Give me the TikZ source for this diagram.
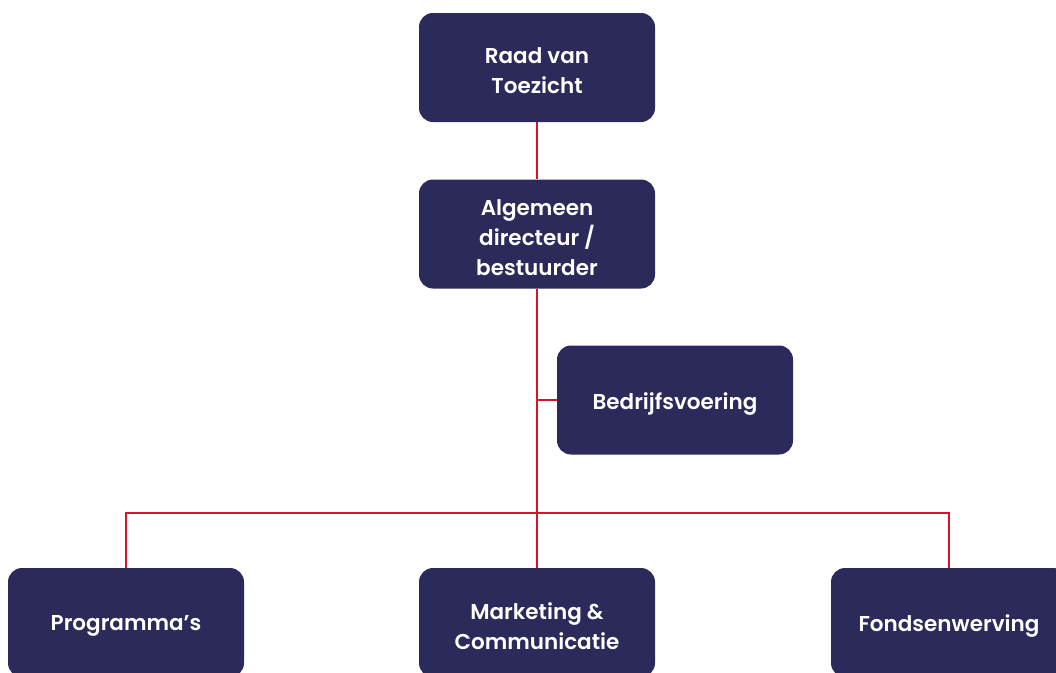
\documentclass[tikz,border=0pt]{standalone}
\usepackage{fontspec}
\setmainfont{Poppins}[UprightFont={* SemiBold}]
\definecolor{navy}{HTML}{2B2A5A}
\definecolor{linered}{HTML}{D7132E}
\begin{document}
\begin{tikzpicture}[x=1pt,y=1pt,
  box/.style={rectangle, rounded corners=14pt, fill=navy,
    minimum width=236pt, minimum height=109pt, inner sep=0pt},
  txt/.style={text=white, align=center, inner sep=0pt, yshift=-3.5pt,
    font=\fontsize{21.5}{30}\selectfont},
  conn/.style={draw=linered, line width=2.5pt}]
\useasboundingbox (0,0) rectangle (1056,-672);
\node[box, label={[txt]center:Raad van\\Toezicht}] (raad) at (537,-67.5) {};
\node[box, label={[txt]center:Algemeen\\directeur /\\bestuurder}] (alg) at (537,-234) {};
\node[box, label={[txt]center:Bedrijfsvoering}] (bedr) at (675,-400) {};
\node[box, label={[txt]center:Programma’s}] (prog) at (126,-622.5) {};
\node[box, label={[txt]center:Marketing \&\\Communicatie}] (mark) at (537,-622.5) {};
\node[box, label={[txt]center:Fondsenwerving}] (fonds) at (949,-622.5) {};
\coordinate (bus) at (537,-513);
\draw[conn] (raad.south) -- (alg.north);
\draw[conn] (alg.south) -- (mark.north);
\draw[conn] (bedr.west) -- (bedr.west -| alg.south);
\draw[conn] (prog.north) |- (bus) -| (fonds.north);
\end{tikzpicture}
\end{document}
